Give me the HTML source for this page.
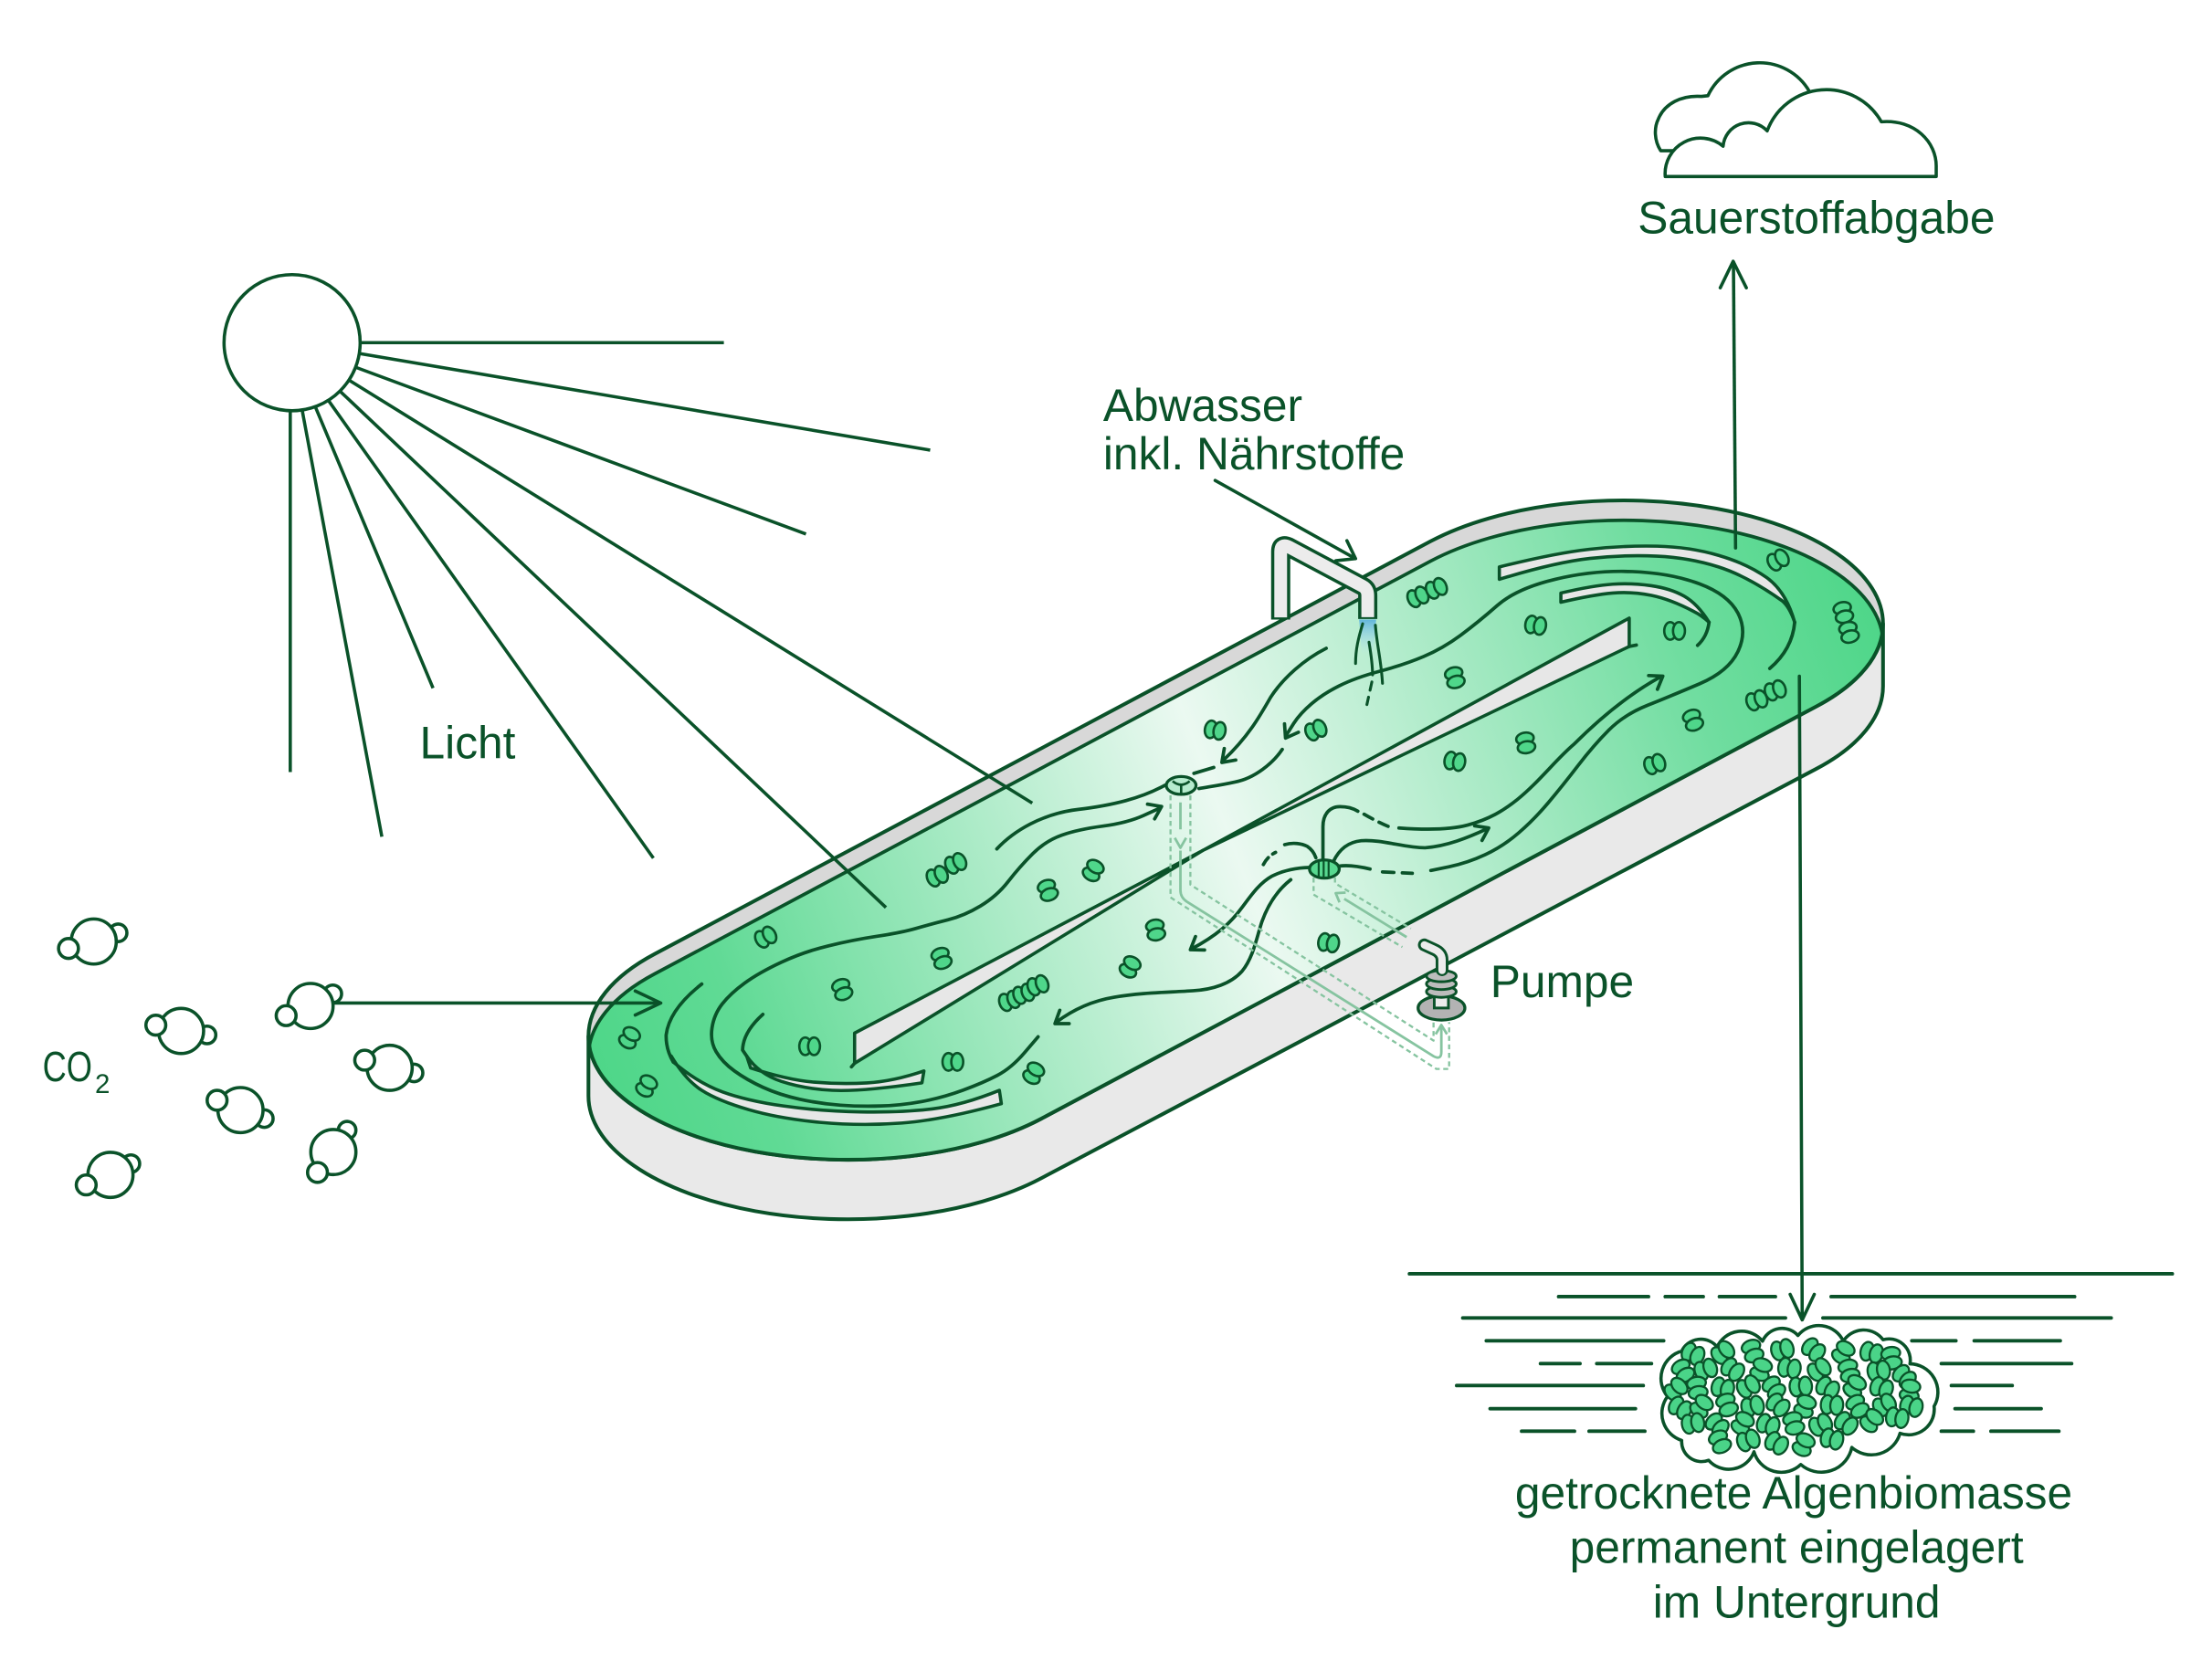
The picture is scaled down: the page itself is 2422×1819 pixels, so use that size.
<!DOCTYPE html>
<html><head><meta charset="utf-8">
<style>
html,body{margin:0;padding:0;background:#fff;}
svg{display:block;}
text{font-family:"Liberation Sans",sans-serif;fill:#0a5229;}
</style></head><body>
<svg xmlns="http://www.w3.org/2000/svg" xmlns:xlink="http://www.w3.org/1999/xlink" width="2422" height="1819" viewBox="0 0 1560 1171.6">
<defs>
 <linearGradient id="wg" gradientUnits="userSpaceOnUse" x1="415" y1="760" x2="1330" y2="420">
  <stop offset="0" stop-color="#4cd687"/>
  <stop offset="0.12" stop-color="#60da95"/>
  <stop offset="0.5" stop-color="#ebf9f1"/>
  <stop offset="0.85" stop-color="#70dda0"/>
  <stop offset="1" stop-color="#4dd688"/>
 </linearGradient>
 <linearGradient id="st" x1="0" y1="0" x2="0" y2="1">
  <stop offset="0" stop-color="#62b6dc"/>
  <stop offset="1" stop-color="#bfe6f3" stop-opacity="0"/>
 </linearGradient>
 <clipPath id="rc"><path d="M461.9,672.8 L1008.9,381.8 A183,87 0 0 1 1328,440 A183,87 0 0 1 1281.1,498.2 L734.1,789.2 A183,87 0 0 1 415,731 A183,87 0 0 1 461.9,672.8 Z"/></clipPath>
 <g id="c"><ellipse cx="-3.1" cy="0" rx="4.2" ry="6.2"/><ellipse cx="3.1" cy="0" rx="4.2" ry="6.2"/></g>
</defs>

<!-- ===== TANK ===== -->
<path d="M415,731 A183,87 0 0 0 734.1,789.2 L1281.1,498.2 A183,87 0 0 0 1328,440 L1328,484 A183,87 0 0 1 1281.1,542.2 L734.1,831.2 A183,87 0 0 1 415,773 Z" fill="#e9e9e9" stroke="#0a5229" stroke-width="2.6" stroke-linejoin="round"/>
<path d="M461.9,672.8 L1008.9,381.8 A183,87 0 0 1 1328,440 A183,87 0 0 1 1281.1,498.2 L734.1,789.2 A183,87 0 0 1 415,731 A183,87 0 0 1 461.9,672.8 Z" fill="#d8d8d8"/>
<g clip-path="url(#rc)">
 <path transform="translate(0,14)" d="M461.9,672.8 L1008.9,381.8 A183,87 0 0 1 1328,440 A183,87 0 0 1 1281.1,498.2 L734.1,789.2 A183,87 0 0 1 415,731 A183,87 0 0 1 461.9,672.8 Z" fill="url(#wg)" stroke="#0a5229" stroke-width="2.4"/>
</g>
<path d="M461.9,672.8 L1008.9,381.8 A183,87 0 0 1 1328,440 A183,87 0 0 1 1281.1,498.2 L734.1,789.2 A183,87 0 0 1 415,731 A183,87 0 0 1 461.9,672.8 Z" fill="none" stroke="#0a5229" stroke-width="2.6"/>

<!-- baffles & divider -->
<g fill="#e7e7e7" stroke="#0a5229" stroke-width="2.3" stroke-linejoin="round">
 <path d="M474.8,749.1 Q492.1,763.8 509.35,770.1 Q526.6,776.4 552.45,780.1 Q578.3,783.8 607.05,784.3 Q635.8,784.8 657.35,782.2 Q678.9,779.6 704.8,769.1 L706.2,778.5 Q664.6,790 635.85,792.15 Q607.1,794.3 578.35,791.65 Q549.6,789 528,782.7 Q506.4,776.4 494.9,769.05 Q483.4,761.7 473.4,744.9 Z"/>
 <path d="M529.4,753.3 Q555.3,761.7 574,763.3 Q592.7,764.9 611.35,763.85 Q630,762.8 651.6,755.4 L650.2,763.8 Q607.1,770.1 586.95,769.05 Q566.8,768 551,762.75 Q535.2,757.5 526.6,744.9 Z"/>
 <path d="M1057.4,399.9 Q1096.7,390.1 1121.15,387.4 Q1145.6,384.7 1168.65,385.25 Q1191.7,385.8 1212.05,391.75 Q1232.4,397.7 1246,407.45 Q1259.6,417.2 1265.7,438.9 Q1262,428 1256.9,423.8 Q1232.4,406.4 1212.05,399.9 Q1191.7,393.4 1168.65,392.3 Q1145.6,391.2 1121.15,393.9 Q1096.7,396.6 1057.4,408.6 Z"/>
 <path d="M1100.8,418.3 Q1123.9,412.9 1137.45,412.05 Q1151,411.2 1164.6,413.15 Q1178.2,415.1 1187.7,420.5 Q1197.2,425.9 1205.3,438.9 Q1200,434 1194.5,431.3 Q1178.2,422.7 1164.6,419.95 Q1151,417.2 1137.45,418.3 Q1123.9,419.4 1100.8,424.8 Z"/>
 <polygon points="602.7,728.7 848,600 602.7,750"/>
 <polygon points="848,600 1149,436 1149,456"/>
</g>

<g fill="none" stroke="#0a5229" stroke-width="2.4" stroke-linecap="round" stroke-linejoin="round">
 <path d="M494.9,694.1 Q472,712 469.8,730 Q469.5,740 474.8,749.1"/>
 <path d="M538,715.5 Q524,728 523.7,740.7 L526.6,744.9"/>
 <path d="M1265.7,438.9 Q1264,458 1248.1,471.5"/>
 <path d="M1205.3,438.9 Q1204,449 1197.2,455.2"/>
 <path d="M602.7,750 L600.5,752.5 M1149,456 L1154,455"/>

 <!-- left wrap + upper lane to mixer 1 -->
 <path d="M732.1,731.3 L722.75,742.3 Q713.4,753.3 703.35,758.55 Q693.3,763.8 678.95,769.05 Q664.6,774.3 650.2,776.95 Q635.8,779.6 621.45,780.1 Q607.1,780.6 592.7,779.55 Q578.3,778.5 563.95,775.35 Q549.6,772.2 538.1,766.95 Q526.6,761.7 517.95,755.4 Q509.3,749.1 505,741.75 Q500.7,734.4 502.15,724.95 Q503.6,715.5 509.35,708.15 Q515.1,700.8 525.15,693.45 Q535.2,686.1 551,678.75 Q566.8,671.4 584.05,667.2 Q601.3,663 618.55,660.4 Q635.8,657.8 646.4,654.75 Q657,651.7 668.5,648.8 Q680,645.9 691.5,639 Q703,632.1 711.05,621.75 Q719.1,611.4 728.3,602.2 Q737.5,593 749,589 Q760.5,585 777.75,582.7 Q795,580.4 806.5,575.2 L818,570"/>
 <polyline points="809.3,567.2 819.2,568.9 814.3,577.6"/>

 <!-- right wrap -->
 <path d="M1009.1,614 L1022,611.35 Q1034.9,608.7 1047.45,602.85 Q1060,597 1071,587.5 Q1082,578 1092.1,566 Q1102.2,554 1113.05,539.85 Q1123.9,525.7 1134.75,514.85 Q1145.6,504 1161.9,497.5 Q1178.2,491 1198.55,482.35 Q1218.9,473.7 1225.65,459.6 Q1232.4,445.5 1225.65,432.45 Q1218.9,419.4 1198.55,411.8 Q1178.2,404.2 1151.05,403.15 Q1123.9,402.1 1096.75,408.6 Q1069.6,415.1 1056.05,427 Q1042.5,438.9 1030.05,448.1 Q1017.6,457.3 1004.05,463.05 Q990.5,468.8 973.25,473.4 Q956,478 944.5,483.75 Q933,489.5 924.95,496.4 Q916.9,503.3 912.45,510.15 L907.5,518"/>
 <polyline points="915.7,516.5 906.6,520.6 905.9,510.6"/>
 <path d="M944,611 C950,610 958,611 966.2,613"/>
 <path d="M975,615 L996,616" stroke-dasharray="8 6"/>

 <!-- upper lane lines -->
 <path d="M935.3,457.3 C920,465 905,478 896,492 C888,506 880,520 863,536"/>
 <polyline points="871.5,536.1 861.7,537.8 863.4,528"/>
 <path d="M904.3,528.6 C898,538 885,549 870.9,551.6 C860,554 852,555 845.6,556.2"/>
 <path d="M856,541.3 L842,545.5"/>
 <path d="M703,598.8 C715,586 735,574 760,571 C785,568 805,563 821.5,553.9"/>

 <!-- lower lane lines -->
 <path d="M933,607 V583 C933,574 938,569 945,569 C950,569 954,570 957.6,572.2"/>
 <path d="M962,574.3 Q970,579 979,582.9" stroke-dasharray="7 5"/>
 <path d="M986.6,584 C1000,585 1020,586 1035,582 C1050,578 1060,572 1070,564 C1085,552 1098,535 1110,525 C1125,510 1145,492 1170,478"/>
 <polyline points="1162.7,476.5 1172.7,476.9 1168.9,486.2"/>
 <path d="M940.4,607.6 C944,600 950,594 960,593 C975,592 990,598 1005,598 C1020,597 1035,591 1049,584.5"/>
 <polyline points="1040,582.5 1049.9,584 1045.2,592.8"/>
 <path d="M891,609.8 Q894,604 899.6,601.2" stroke-dasharray="6 4"/>
 <path d="M906,595.8 C912,594 918,595 922,597 C925,599 927,602 928,605"/>
 <path d="M923.2,611.9 C915,612 905,614 897,618 C888,623 882,632 876,640 C868,651 858,660 840,669.5"/>
 <polyline points="849.5,670.1 839.5,669.9 843.1,660.6"/>
 <path d="M910.3,620.5 C902,627 895,636 890,650 C886,662 884,675 876,685 C868,694 855,698 841.6,698.8 C825,700 805,700 785.8,703.4 C770,706 757,712 745,721"/>
 <polyline points="754,722 744,722 747.4,712.6"/>
</g>

<!-- cells in tank -->
<g fill="#4fd68a" stroke="#0a5229" stroke-width="1.7">
 <use href="#c" xlink:href="#c" transform="translate(1000,421) rotate(-25)"/>
 <use href="#c" xlink:href="#c" transform="translate(1013,415) rotate(-25)"/>
 <use href="#c" xlink:href="#c" transform="translate(1083,441) rotate(10)"/>
 <use href="#c" xlink:href="#c" transform="translate(1181,445) rotate(0)"/>
 <use href="#c" xlink:href="#c" transform="translate(1254,395) rotate(-30)"/>
 <use href="#c" xlink:href="#c" transform="translate(1300,432) rotate(75)"/>
 <use href="#c" xlink:href="#c" transform="translate(1304,446) rotate(75)"/>
 <use href="#c" xlink:href="#c" transform="translate(1026,478) rotate(75)"/>
 <use href="#c" xlink:href="#c" transform="translate(1239,494) rotate(-20)"/>
 <use href="#c" xlink:href="#c" transform="translate(1252,487) rotate(-20)"/>
 <use href="#c" xlink:href="#c" transform="translate(1194,508) rotate(70)"/>
 <use href="#c" xlink:href="#c" transform="translate(1076,524) rotate(80)"/>
 <use href="#c" xlink:href="#c" transform="translate(1026,537) rotate(10)"/>
 <use href="#c" xlink:href="#c" transform="translate(1167,539) rotate(-20)"/>
 <use href="#c" xlink:href="#c" transform="translate(857,515) rotate(10)"/>
 <use href="#c" xlink:href="#c" transform="translate(928,515) rotate(-25)"/>
 <use href="#c" xlink:href="#c" transform="translate(661,618) rotate(-25)"/>
 <use href="#c" xlink:href="#c" transform="translate(674,609) rotate(-25)"/>
 <use href="#c" xlink:href="#c" transform="translate(771,614) rotate(-60)"/>
 <use href="#c" xlink:href="#c" transform="translate(739,628) rotate(70)"/>
 <use href="#c" xlink:href="#c" transform="translate(815,656) rotate(80)"/>
 <use href="#c" xlink:href="#c" transform="translate(937,665) rotate(10)"/>
 <use href="#c" xlink:href="#c" transform="translate(664,676) rotate(70)"/>
 <use href="#c" xlink:href="#c" transform="translate(797,682) rotate(-60)"/>
 <use href="#c" xlink:href="#c" transform="translate(712,706) rotate(-20)"/>
 <use href="#c" xlink:href="#c" transform="translate(722,701) rotate(-20)"/>
 <use href="#c" xlink:href="#c" transform="translate(732,695) rotate(-20)"/>
 <use href="#c" xlink:href="#c" transform="translate(540,661) rotate(-30)"/>
 <use href="#c" xlink:href="#c" transform="translate(594,698) rotate(70)"/>
 <use href="#c" xlink:href="#c" transform="translate(571,738) rotate(0)"/>
 <use href="#c" xlink:href="#c" transform="translate(672,749) rotate(0)"/>
 <use href="#c" xlink:href="#c" transform="translate(729,757) rotate(-60)"/>
 <use href="#c" xlink:href="#c" transform="translate(444,732) rotate(-60)"/>
 <use href="#c" xlink:href="#c" transform="translate(456,766) rotate(-60)"/>
</g>

<!-- mixers -->
<ellipse cx="833" cy="554" rx="10.5" ry="6.3" fill="#b6ecce" stroke="#0a5229" stroke-width="2.1"/>
<path d="M827,551 Q833,556 839,551 M833,554 V560" fill="none" stroke="#0a5229" stroke-width="1.7"/>
<ellipse cx="934" cy="613" rx="10.5" ry="6.4" fill="#58d890" stroke="#0a5229" stroke-width="2.1"/>
<path d="M930,608 V618.5 M933.5,607 V619.3 M937,607.5 V619" stroke="#0a5229" stroke-width="1.4"/>

<!-- dashed pipes -->
<g fill="none" stroke="#86c4a0" stroke-width="1.5" stroke-linejoin="round">
 <path d="M825.5,561 V633 L1013,754 L1022,754 V721" stroke-dasharray="3.5 2.5"/>
 <path d="M839.5,561 V624 L1011,734 V721" stroke-dasharray="3.5 2.5"/>
 <path d="M926.4,619 V631 L989,668" stroke-dasharray="3.5 2.5"/>
 <path d="M941.5,619 V623 L995,655" stroke-dasharray="3.5 2.5"/>
 <path d="M832.5,566 V585 M832.5,600 V628 Q832.5,633 837,636 L1011,745 Q1016.5,748 1016.5,742 V724" stroke-width="1.8"/>
 <polyline points="828.5,591 832.5,598 836.5,591" stroke-width="1.8"/>
 <polyline points="1012.5,729.5 1016.5,723 1020.5,729.5" stroke-width="1.8"/>
 <path d="M948,634 L992,661" stroke-width="1.8"/>
 <polyline points="944.7,636.5 942,630 949,629.6" stroke-width="1.8"/>
</g>

<!-- pump -->
<ellipse cx="1016.6" cy="711" rx="16.5" ry="8.5" fill="#b3b3b3" stroke="#0a5229" stroke-width="2.1"/>
<rect x="1011.5" y="692" width="10" height="19" fill="#ececec" stroke="#0a5229" stroke-width="1.9"/>
<ellipse cx="1016.5" cy="699.5" rx="10.5" ry="4" fill="#bcbcbc" stroke="#0a5229" stroke-width="1.9"/>
<ellipse cx="1016.5" cy="694" rx="10.5" ry="4" fill="#bcbcbc" stroke="#0a5229" stroke-width="1.9"/>
<ellipse cx="1016.5" cy="688.5" rx="10.5" ry="4" fill="#bcbcbc" stroke="#0a5229" stroke-width="1.9"/>
<path d="M1017,684 V677 Q1017,672 1011,669.5 L1004.5,666.5" fill="none" stroke="#0a5229" stroke-width="9" stroke-linecap="round"/>
<path d="M1017,684.5 V677 Q1017,672 1011,669.5 L1004.5,666.5" fill="none" stroke="#ececec" stroke-width="5.2" stroke-linecap="round"/>

<!-- Abwasser pipe -->
<path d="M958.5,437 H970.5 L968.5,462 H960.5 Z" fill="url(#st)"/>
<path d="M903.2,437 V389 Q903.2,383 909,385.8 L961,413.5 Q964.6,415.5 964.6,420 V436.6" fill="none" stroke="#0a5229" stroke-width="13.5"/>
<path d="M903.2,435.5 V389 Q903.2,383 909,385.8 L961,413.5 Q964.6,415.5 964.6,420 V435.3" fill="none" stroke="#ececec" stroke-width="9"/>
<g fill="none" stroke="#0a5229" stroke-width="2" stroke-linecap="round">
 <path d="M961,440 C958,450 956,458 956,468"/>
 <path d="M970,441 C971,455 974,465 975,482"/>
 <path d="M965.5,453 C967,462 968,470 968,476"/>
 <path d="M967.5,481 L964,497" stroke-dasharray="6 5"/>
</g>

<!-- ===== SUN ===== -->
<g stroke="#0a5229" stroke-width="2.3" fill="none">
 <line x1="253.9" y1="241.7" x2="510.5" y2="241.7"/>
 <line x1="253.9" y1="249.4" x2="656" y2="317.5"/>
 <line x1="250.7" y1="259" x2="568.4" y2="376.7"/>
 <line x1="246.2" y1="268.2" x2="728" y2="566.5"/>
 <line x1="240.4" y1="276.5" x2="624.8" y2="640.1"/>
 <line x1="231.8" y1="282.7" x2="460.8" y2="605.3"/>
 <line x1="222.3" y1="286.7" x2="305.4" y2="485.4"/>
 <line x1="213.2" y1="289.8" x2="269.3" y2="590.2"/>
 <line x1="204.7" y1="290.4" x2="204.7" y2="544.6"/>
</g>
<circle cx="206" cy="241.7" r="48" fill="#fff" stroke="#0a5229" stroke-width="2.3"/>
<text x="296" y="535" font-size="32">Licht</text>

<!-- ===== CO2 ===== -->
<g fill="#fff" stroke="#0a5229" stroke-width="2.3">
 <circle cx="83.3" cy="658" r="6.2"/><circle cx="66.1" cy="664.1" r="15.9"/><circle cx="48.3" cy="669" r="7"/>
 <circle cx="146" cy="730" r="6.2"/><circle cx="127.7" cy="727.2" r="15.9"/><circle cx="109.9" cy="723.1" r="7"/>
 <circle cx="234.7" cy="701" r="6.2"/><circle cx="219" cy="709.6" r="15.9"/><circle cx="201.8" cy="716.4" r="7"/>
 <circle cx="292" cy="756.8" r="6.2"/><circle cx="274.8" cy="753.2" r="15.9"/><circle cx="257.2" cy="747.8" r="7"/>
 <circle cx="186.4" cy="789" r="6.2"/><circle cx="169.6" cy="783" r="15.9"/><circle cx="153.1" cy="776.1" r="7"/>
 <circle cx="244.8" cy="797.2" r="6.2"/><circle cx="235.1" cy="812.6" r="15.9"/><circle cx="223.9" cy="827" r="7"/>
 <circle cx="92.3" cy="820.8" r="6.2"/><circle cx="77.9" cy="828.7" r="15.9"/><circle cx="60.8" cy="835.8" r="7"/>
</g>
<text x="30" y="762.6" font-size="30" textLength="35" lengthAdjust="spacingAndGlyphs">CO</text>
<text x="67" y="771" font-size="19">2</text>
<g fill="none" stroke="#0a5229" stroke-width="2.3" stroke-linecap="round" stroke-linejoin="round">
 <line x1="236" y1="707.5" x2="465" y2="707.5"/>
 <polyline points="448,699 466,707.5 448,716"/>
</g>

<!-- ===== Abwasser label ===== -->
<text x="778" y="297" font-size="32">Abwasser</text>
<text x="778" y="331" font-size="32">inkl. Nährstoffe</text>
<g fill="none" stroke="#0a5229" stroke-width="2.3" stroke-linecap="round" stroke-linejoin="round">
 <line x1="857" y1="338.9" x2="955" y2="393.5"/>
 <polyline points="949.9,381.4 956,394 942.1,395.5"/>
</g>

<text x="1051" y="703.5" font-size="32">Pumpe</text>

<!-- ===== Cloud / O2 ===== -->
<g fill="#fff" stroke="#0a5229" stroke-width="2.3" stroke-linejoin="round">
 <path d="M1171.2,106.3 C1166.5,99 1166.5,90 1169.5,84 C1174,73 1186,67 1200,68 L1204.5,67.5 A40.4,40.4 0 0 1 1276,64.4 L1276,106.3 Z"/>
 <path d="M1174.4,124.5 A25,25 0 0 1 1215.2,103.1 A18,18 0 0 1 1246.3,92.3 A44.5,44.5 0 0 1 1326.8,85.9 C1350,84 1366,100 1365.5,118 L1365.5,124.5 Z"/>
</g>
<text x="1155" y="164.5" font-size="32">Sauerstoffabgabe</text>
<g fill="none" stroke="#0a5229" stroke-width="2.3" stroke-linecap="round" stroke-linejoin="round">
 <line x1="1222.5" y1="185" x2="1224" y2="386.5"/>
 <polyline points="1213.2,203 1222.3,184.3 1231.6,203"/>
 <line x1="1269" y1="477" x2="1271" y2="930"/>
 <polyline points="1262.5,913 1271,931 1279.5,913"/>
</g>

<!-- ===== Ground lines ===== -->
<g stroke="#0a5229" stroke-width="2.5" stroke-linecap="round">
 <line x1="994" y1="898.5" x2="1532" y2="898.5"/>
 <line x1="1099.2" y1="914.6" x2="1162.6" y2="914.6"/>
 <line x1="1174.4" y1="914.6" x2="1201.2" y2="914.6"/>
 <line x1="1212.6" y1="914.6" x2="1252.1" y2="914.6"/>
 <line x1="1291.4" y1="914.6" x2="1463.1" y2="914.6"/>
 <line x1="1031.6" y1="929.6" x2="1259.2" y2="929.6"/>
 <line x1="1285.6" y1="929.6" x2="1488.9" y2="929.6"/>
 <line x1="1048.2" y1="945.7" x2="1173.3" y2="945.7"/>
 <line x1="1348.3" y1="945.7" x2="1379.4" y2="945.7"/>
 <line x1="1392.3" y1="945.7" x2="1453" y2="945.7"/>
 <line x1="1086.4" y1="961.8" x2="1114.3" y2="961.8"/>
 <line x1="1126.1" y1="961.8" x2="1164.7" y2="961.8"/>
 <line x1="1369.1" y1="961.8" x2="1461" y2="961.8"/>
 <line x1="1027.3" y1="977.3" x2="1158.9" y2="977.3"/>
 <line x1="1376.2" y1="977.3" x2="1419.1" y2="977.3"/>
 <line x1="1050.9" y1="993.6" x2="1153.4" y2="993.6"/>
 <line x1="1378.8" y1="993.6" x2="1439.5" y2="993.6"/>
 <line x1="1073.1" y1="1009.5" x2="1110.4" y2="1009.5"/>
 <line x1="1120.7" y1="1009.5" x2="1160" y2="1009.5"/>
 <line x1="1369.1" y1="1009.5" x2="1391.7" y2="1009.5"/>
 <line x1="1404.1" y1="1009.5" x2="1452" y2="1009.5"/>
</g>

<!-- ===== Biomass blob ===== -->
<path d="M1186,1016 A20,20 0 0 1 1176,985 A20,20 0 0 1 1186,953 A15,15 0 0 1 1211,950 A19,19 0 0 1 1243,946 A15,15 0 0 1 1268,942 A19,19 0 0 1 1300,946 A17,17 0 0 1 1328,945 A15,15 0 0 1 1347,962 A20,20 0 0 1 1364,992 A18,18 0 0 1 1340,1011 A21,21 0 0 1 1306,1021 A22,22 0 0 1 1270,1033 A20,20 0 0 1 1237,1024 A19,19 0 0 1 1205,1030 A14,14 0 0 1 1186,1016 Z" fill="#fff" stroke="#0a5229" stroke-width="2.3" stroke-linejoin="round"/>
<g fill="#4ad488" stroke="#0a5229" stroke-width="1.4">
 <use href="#c" xlink:href="#c" transform="translate(1194,955) rotate(25) scale(1.08)"/>
 <use href="#c" xlink:href="#c" transform="translate(1215,954) rotate(-40) scale(1.08)"/>
 <use href="#c" xlink:href="#c" transform="translate(1236,953) rotate(70) scale(1.08)"/>
 <use href="#c" xlink:href="#c" transform="translate(1257,952) rotate(-15) scale(1.08)"/>
 <use href="#c" xlink:href="#c" transform="translate(1279,952) rotate(40) scale(1.08)"/>
 <use href="#c" xlink:href="#c" transform="translate(1300,954) rotate(-60) scale(1.08)"/>
 <use href="#c" xlink:href="#c" transform="translate(1320,954) rotate(15) scale(1.08)"/>
 <use href="#c" xlink:href="#c" transform="translate(1334,958) rotate(80) scale(1.08)"/>
 <use href="#c" xlink:href="#c" transform="translate(1187,967) rotate(60) scale(1.08)"/>
 <use href="#c" xlink:href="#c" transform="translate(1203,966) rotate(-20) scale(1.08)"/>
 <use href="#c" xlink:href="#c" transform="translate(1222,966) rotate(35) scale(1.08)"/>
 <use href="#c" xlink:href="#c" transform="translate(1242,966) rotate(-70) scale(1.08)"/>
 <use href="#c" xlink:href="#c" transform="translate(1262,965) rotate(10) scale(1.08)"/>
 <use href="#c" xlink:href="#c" transform="translate(1283,966) rotate(-35) scale(1.08)"/>
 <use href="#c" xlink:href="#c" transform="translate(1304,967) rotate(75) scale(1.08)"/>
 <use href="#c" xlink:href="#c" transform="translate(1325,967) rotate(-10) scale(1.08)"/>
 <use href="#c" xlink:href="#c" transform="translate(1343,971) rotate(45) scale(1.08)"/>
 <use href="#c" xlink:href="#c" transform="translate(1182,980) rotate(-45) scale(1.08)"/>
 <use href="#c" xlink:href="#c" transform="translate(1197,979) rotate(80) scale(1.08)"/>
 <use href="#c" xlink:href="#c" transform="translate(1215,979) rotate(15) scale(1.08)"/>
 <use href="#c" xlink:href="#c" transform="translate(1233,978) rotate(-30) scale(1.08)"/>
 <use href="#c" xlink:href="#c" transform="translate(1251,979) rotate(55) scale(1.08)"/>
 <use href="#c" xlink:href="#c" transform="translate(1270,978) rotate(-5) scale(1.08)"/>
 <use href="#c" xlink:href="#c" transform="translate(1289,979) rotate(30) scale(1.08)"/>
 <use href="#c" xlink:href="#c" transform="translate(1308,978) rotate(-60) scale(1.08)"/>
 <use href="#c" xlink:href="#c" transform="translate(1327,979) rotate(20) scale(1.08)"/>
 <use href="#c" xlink:href="#c" transform="translate(1347,981) rotate(-80) scale(1.08)"/>
 <use href="#c" xlink:href="#c" transform="translate(1185,993) rotate(30) scale(1.08)"/>
 <use href="#c" xlink:href="#c" transform="translate(1200,992) rotate(-55) scale(1.08)"/>
 <use href="#c" xlink:href="#c" transform="translate(1218,991) rotate(70) scale(1.08)"/>
 <use href="#c" xlink:href="#c" transform="translate(1236,992) rotate(-15) scale(1.08)"/>
 <use href="#c" xlink:href="#c" transform="translate(1254,991) rotate(40) scale(1.08)"/>
 <use href="#c" xlink:href="#c" transform="translate(1273,992) rotate(-70) scale(1.08)"/>
 <use href="#c" xlink:href="#c" transform="translate(1292,991) rotate(5) scale(1.08)"/>
 <use href="#c" xlink:href="#c" transform="translate(1310,992) rotate(60) scale(1.08)"/>
 <use href="#c" xlink:href="#c" transform="translate(1329,991) rotate(-30) scale(1.08)"/>
 <use href="#c" xlink:href="#c" transform="translate(1348,992) rotate(15) scale(1.08)"/>
 <use href="#c" xlink:href="#c" transform="translate(1194,1004) rotate(-10) scale(1.08)"/>
 <use href="#c" xlink:href="#c" transform="translate(1211,1005) rotate(45) scale(1.08)"/>
 <use href="#c" xlink:href="#c" transform="translate(1229,1004) rotate(-60) scale(1.08)"/>
 <use href="#c" xlink:href="#c" transform="translate(1247,1005) rotate(20) scale(1.08)"/>
 <use href="#c" xlink:href="#c" transform="translate(1265,1004) rotate(75) scale(1.08)"/>
 <use href="#c" xlink:href="#c" transform="translate(1284,1005) rotate(-25) scale(1.08)"/>
 <use href="#c" xlink:href="#c" transform="translate(1302,1004) rotate(35) scale(1.08)"/>
 <use href="#c" xlink:href="#c" transform="translate(1320,1002) rotate(-50) scale(1.08)"/>
 <use href="#c" xlink:href="#c" transform="translate(1338,1000) rotate(10) scale(1.08)"/>
 <use href="#c" xlink:href="#c" transform="translate(1213,1017) rotate(65) scale(1.08)"/>
 <use href="#c" xlink:href="#c" transform="translate(1233,1016) rotate(-20) scale(1.08)"/>
 <use href="#c" xlink:href="#c" transform="translate(1253,1018) rotate(30) scale(1.08)"/>
 <use href="#c" xlink:href="#c" transform="translate(1272,1019) rotate(-65) scale(1.08)"/>
 <use href="#c" xlink:href="#c" transform="translate(1292,1015) rotate(15) scale(1.08)"/>
</g>

<text x="1265" y="1064" font-size="32" text-anchor="middle">getrocknete Algenbiomasse</text>
<text x="1267" y="1102.5" font-size="32" text-anchor="middle">permanent eingelagert</text>
<text x="1267" y="1141" font-size="32" text-anchor="middle">im Untergrund</text>
</svg>
</body></html>
